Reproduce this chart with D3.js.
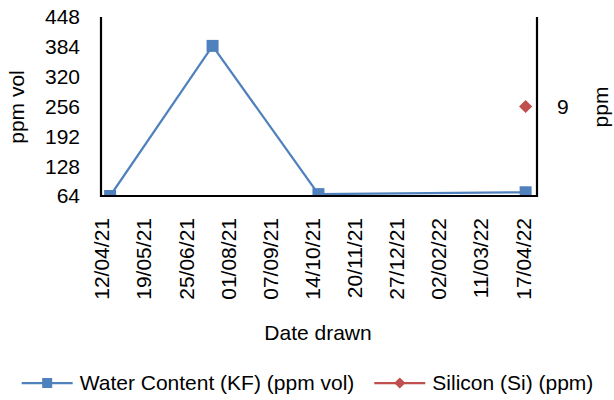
<!DOCTYPE html>
<html>
<head>
<meta charset="utf-8">
<script src="https://cdn.jsdelivr.net/npm/d3@7"></script>
<style>
  body { margin: 0; background: #fff; }
  svg { font-family: "Liberation Sans", Arial, sans-serif; }
</style>
</head>
<body>
<svg id="chart" width="614" height="400"></svg>
<script>
// water content (KF), ppm vol
var waterDates = ["2021-04-20", "2021-07-19", "2021-10-20", "2022-04-20"];
var waterValues = [64, 386, 68, 72];
// silicon (Si), ppm - secondary axis
var siliconDates = ["2022-04-20"];
var siliconValues = [9];
var xTickDates = ["2021-04-12", "2021-05-19", "2021-06-25", "2021-08-01", "2021-09-07",
  "2021-10-14", "2021-11-20", "2021-12-27", "2022-02-02", "2022-03-11", "2022-04-17"];
var yTicks = [64, 128, 192, 256, 320, 384, 448];
var y2Ticks = [9];
var seriesNames = ["Water Content (KF) (ppm vol)", "Silicon (Si) (ppm)"];
var blue = "#4f81bd", red = "#c0504d";

(function () {
  var parse = d3.utcParse("%Y-%m-%d");
  var fmt = d3.utcFormat("%d/%m/%y");
  var svg = d3.select("#chart");
  var left = 101, right = 537, top = 17, bottom = 196;
  var fs = 21;

  var x = d3.scaleUtc().domain([parse("2021-04-12"), parse("2022-04-30")]).range([left, right]);
  var y = d3.scaleLinear().domain([64, 448]).range([bottom, top]);
  var y2 = d3.scaleLinear().domain([8, 10]).range([bottom, top]);

  svg.append("clipPath").attr("id", "plot").append("rect")
    .attr("x", left).attr("y", top).attr("width", right - left).attr("height", bottom - top);

  // y tick labels
  svg.selectAll(".ylab").data(yTicks).enter().append("text")
    .attr("x", 80).attr("y", function (d) { return y(d); })
    .attr("dy", "0.35em").attr("text-anchor", "end").attr("font-size", fs).attr("fill", "#000")
    .text(function (d) { return d; });
  svg.selectAll(".y2lab").data(y2Ticks).enter().append("text")
    .attr("x", 557).attr("y", function (d) { return y2(d); })
    .attr("dy", "0.35em").attr("text-anchor", "start").attr("font-size", fs).attr("fill", "#000")
    .text(function (d) { return d; });

  // x tick labels, rotated
  svg.selectAll(".xlab").data(xTickDates).enter().append("text")
    .attr("transform", function (d) { return "translate(" + (x(parse(d)) + 1) + "," + 218 + ") rotate(-90)"; })
    .attr("dy", "0.35em").attr("text-anchor", "end").attr("font-size", fs).attr("fill", "#000")
    .text(function (d) { return fmt(parse(d)); });

  // axis titles
  svg.append("text").attr("transform", "translate(17,107) rotate(-90)")
    .attr("dy", "0.35em").attr("text-anchor", "middle").attr("font-size", fs).text("ppm vol");
  svg.append("text").attr("transform", "translate(601,107) rotate(-90)")
    .attr("dy", "0.35em").attr("text-anchor", "middle").attr("font-size", fs).text("ppm");
  svg.append("text").attr("x", 318).attr("y", 333)
    .attr("dy", "0.35em").attr("text-anchor", "middle").attr("font-size", fs).text("Date drawn");

  // series
  var water = waterDates.map(function (d, i) { return { date: parse(d), v: waterValues[i] }; });
  var silicon = siliconDates.map(function (d, i) { return { date: parse(d), v: siliconValues[i] }; });
  var plot = svg.append("g").attr("clip-path", "url(#plot)");
  var line = d3.line().x(function (d) { return x(d.date); }).y(function (d) { return y(d.v); });
  plot.append("path").datum(water).attr("d", line)
    .attr("fill", "none").attr("stroke", blue).attr("stroke-width", 2.25);
  var sq = d3.symbol().type(d3.symbolSquare).size(144);
  plot.selectAll(".wpt").data(water).enter().append("path")
    .attr("d", sq).attr("fill", blue)
    .attr("transform", function (d) { return "translate(" + x(d.date) + "," + y(d.v) + ")"; });
  var dia = d3.symbol().type(d3.symbolDiamond2).size(110);
  plot.selectAll(".spt").data(silicon).enter().append("path")
    .attr("d", dia).attr("fill", red)
    .attr("transform", function (d) { return "translate(" + x(d.date) + "," + y2(d.v) + ")"; });

  // axes lines
  svg.append("path").attr("d", "M" + left + "," + top + "V" + bottom + "H" + right + "V" + top)
    .attr("fill", "none").attr("stroke", "#000").attr("stroke-width", 2.2);

  // legend
  var lgSq = d3.symbol().type(d3.symbolSquare).size(100);
  var lgDia = d3.symbol().type(d3.symbolDiamond2).size(80);
  var lg = svg.append("g");
  var items = [{ name: seriesNames[0], color: blue, sym: lgSq }, { name: seriesNames[1], color: red, sym: lgDia }];
  var cx = 0, ly = 383;
  items.forEach(function (it, i) {
    var g = lg.append("g").attr("transform", "translate(" + cx + ",0)");
    g.append("line").attr("x1", 0).attr("x2", 51).attr("y1", ly).attr("y2", ly)
      .attr("stroke", it.color).attr("stroke-width", 2.25);
    g.append("path").attr("d", it.sym).attr("fill", it.color)
      .attr("transform", "translate(25.5," + ly + ")");
    var t = g.append("text").attr("x", 58).attr("y", ly).attr("dy", "0.35em")
      .attr("font-size", fs).text(it.name);
    cx += 58 + t.node().getComputedTextLength() + 20;
  });
  var total = cx - 20;
  lg.attr("transform", "translate(" + (307.5 - total / 2) + ",0)");
})();
</script>
</body>
</html>
